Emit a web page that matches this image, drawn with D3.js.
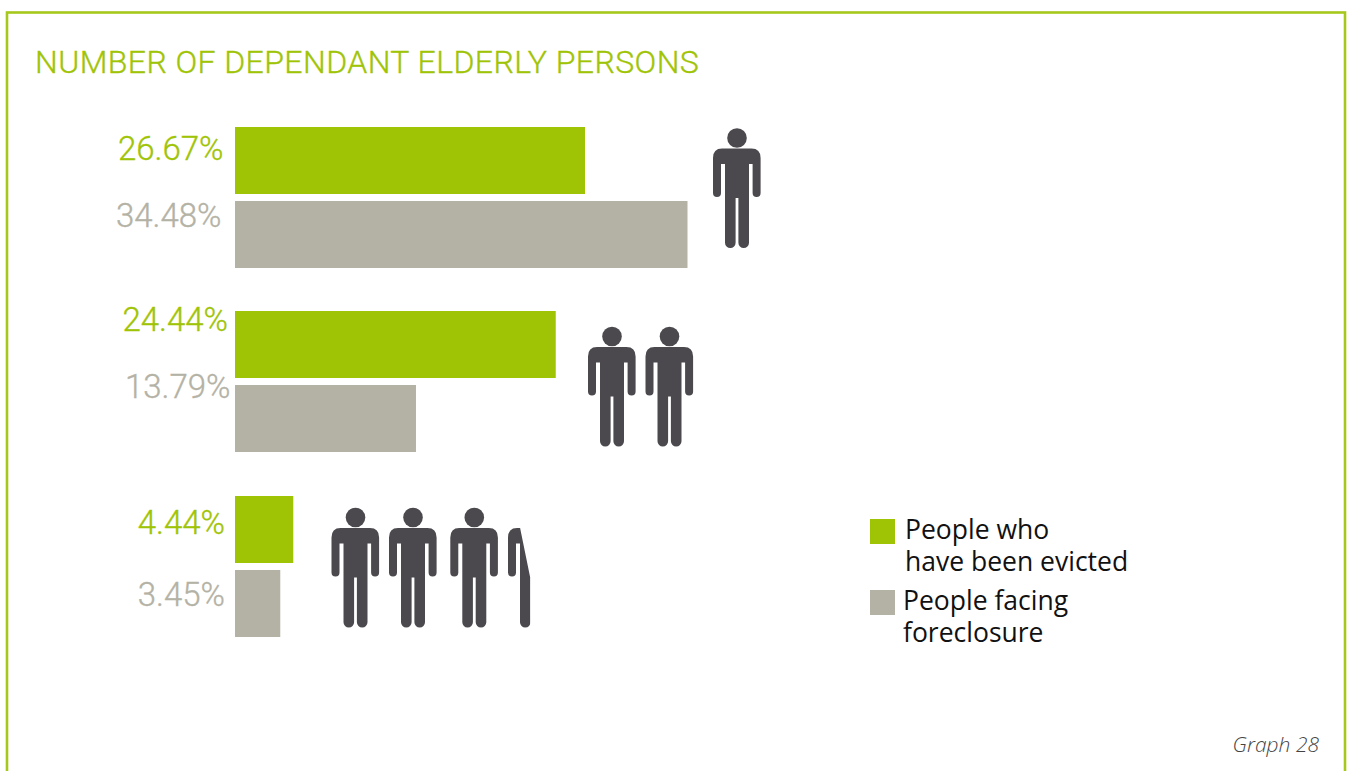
<!DOCTYPE html>
<html><head><meta charset="utf-8">
<script src="https://cdn.jsdelivr.net/npm/d3@7"></script>
<style>
html,body{margin:0;padding:0;background:#fff;overflow:hidden}
text{font-family:"Open Sans",sans-serif}
.din{font-family:"Roboto",sans-serif;font-weight:300;stroke-width:.35px}
</style></head><body>
<svg id="chart" width="1348" height="771"></svg>
<script>
// Share of dependent elderly persons per household group
const groups = ["one", "two", "threeOrMore"];
const evicted = [26.67, 24.44, 4.44];
const foreclosure = [34.48, 13.79, 3.45];
const personCounts = [1, 2, 3.5];
const legendEvicted = ["People who", "have been evicted"];
const legendForeclosure = ["People facing", "foreclosure"];

const GREEN = "#9fc405", GREY = "#b4b2a5", DARK = "#4b494e";

const svg = d3.select("#chart");
const x = d3.scaleLinear().domain([0, 34.48]).range([235, 687.5]);

// Frame, open at the bottom edge of the page
svg.append("rect").attr("x", 7).attr("y", 12.5).attr("width", 1338).attr("height", 790)
  .attr("fill", "none").attr("stroke", "#a6c81c").attr("stroke-width", 2.6);

svg.append("text").attr("class", "din").attr("x", 35).attr("y", 73)
  .attr("font-size", 32).attr("fill", GREEN).attr("stroke", GREEN)
  .attr("letter-spacing", 0.43)
  .text("NUMBER OF DEPENDANT ELDERLY PERSONS");

// Bars and their value labels
const barH = 67;
const rowTop = [127, 311, 496];
const rowGap = 74;
const labelRightEv = [223.5, 228, 225];
const labelRightFc = [221.5, 230.5, 225];
const labelBaseEv = [160, 331, 534];
const labelBaseFc = [226.5, 398, 606];

groups.forEach((g, i) => {
  const row = svg.append("g").attr("class", "row-" + g);
  row.append("rect").attr("x", x(0)).attr("y", rowTop[i])
    .attr("width", x(evicted[i]) - x(0)).attr("height", barH).attr("fill", GREEN);
  row.append("rect").attr("x", x(0)).attr("y", rowTop[i] + rowGap)
    .attr("width", x(foreclosure[i]) - x(0)).attr("height", barH).attr("fill", GREY);
  row.append("text").attr("class", "din").attr("x", labelRightEv[i]).attr("y", labelBaseEv[i])
    .attr("text-anchor", "end").attr("font-size", 33).attr("fill", GREEN).attr("stroke", GREEN)
    .text(evicted[i].toFixed(2) + "%");
  row.append("text").attr("class", "din").attr("x", labelRightFc[i]).attr("y", labelBaseFc[i])
    .attr("text-anchor", "end").attr("font-size", 33).attr("fill", GREY).attr("stroke", GREY)
    .text(foreclosure[i].toFixed(2) + "%");
});

// Pictogram of one person, 48 wide and 120 tall
const personPath = d3.path();
personPath.moveTo(9, 20.5);
personPath.lineTo(38.5, 20.5);
personPath.quadraticCurveTo(47.6, 20.5, 47.6, 30);
personPath.lineTo(47.6, 65);
personPath.arc(43.6, 65, 4, 0, Math.PI);
personPath.lineTo(39.6, 36);
personPath.lineTo(36, 36);
personPath.lineTo(36, 114.7);
personPath.arc(30.7, 114.7, 5.3, 0, Math.PI);
personPath.lineTo(25.4, 70);
personPath.lineTo(22.6, 70);
personPath.lineTo(22.6, 114.7);
personPath.arc(17.3, 114.7, 5.3, 0, Math.PI);
personPath.lineTo(12, 36);
personPath.lineTo(8, 36);
personPath.lineTo(8, 65);
personPath.arc(4, 65, 4, 0, Math.PI);
personPath.lineTo(0, 30);
personPath.quadraticCurveTo(0, 20.5, 9, 20.5);
personPath.closePath();

// Cut used for the fractional last person: left part of the figure, slanted at the shoulder
svg.append("defs").append("clipPath").attr("id", "partial").append("path")
  .attr("d", "M-2,-2 L2,20 L12,20 L22.2,70 L22.2,122 L-2,122 Z");

const personX = [[713], [588, 645.5], [331.5, 389, 450.3, 508]];
const personY = [128, 326.5, 507.5];

personCounts.forEach((n, i) => {
  d3.range(Math.ceil(n)).forEach(k => {
    const partial = k + 1 > n;
    const p = svg.append("g").attr("transform", `translate(${personX[i][k]},${personY[i]})`)
      .attr("fill", DARK);
    if (partial) p.attr("clip-path", "url(#partial)");
    p.append("circle").attr("cx", 24).attr("cy", 10).attr("r", 9.8);
    p.append("path").attr("d", personPath.toString());
  });
});

// Legend
function legendEntry(y, boxX, textX, color, lines) {
  svg.append("rect").attr("x", boxX).attr("y", y).attr("width", 25).attr("height", 25).attr("fill", color);
  lines.forEach((t, i) => svg.append("text").attr("x", textX).attr("y", y + 19.5 + i * 32)
    .attr("font-size", 26.5).attr("fill", "#111").text(t));
}
legendEntry(519, 870, 905, GREEN, legendEvicted);
legendEntry(590, 870, 903, GREY, legendForeclosure);

svg.append("text").attr("x", 1319).attr("y", 752).attr("text-anchor", "end")
  .attr("font-size", 21).attr("font-style", "italic").attr("font-weight", 300).attr("fill", "#444").text("Graph 28");
</script>
</body></html>
